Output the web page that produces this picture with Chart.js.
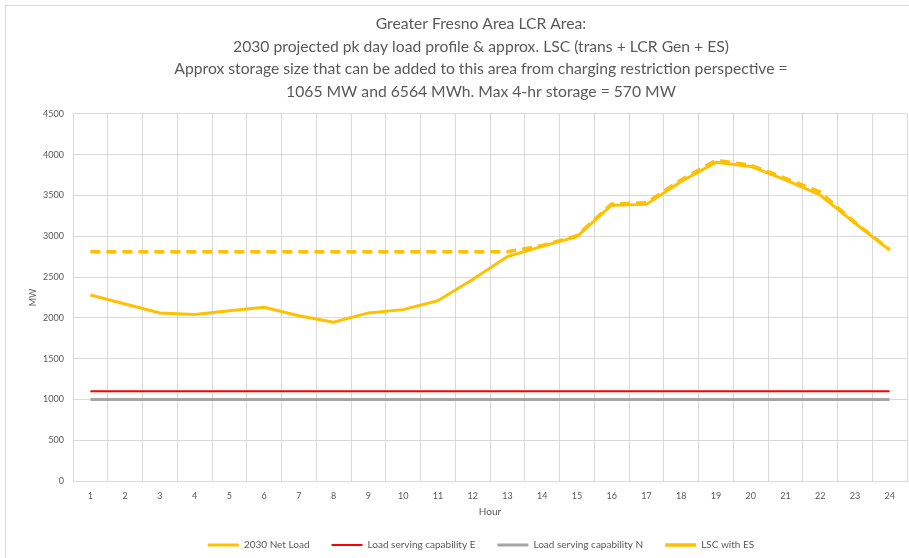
<!DOCTYPE html>
<html>
<head>
<meta charset="utf-8">
<script src="https://cdn.jsdelivr.net/npm/chart.js@4/dist/chart.umd.min.js"></script>
<style>
  html, body { margin: 0; padding: 0; background: #fff; overflow: hidden; }
  #frame { position: absolute; left: 5px; top: 5px; width: 932px; height: 570px; border: 1px solid #d9d9d9; }
  #chartCanvas { display: block; }
</style>
</head>
<body>
<div id="frame"><canvas id="chartCanvas" width="932" height="570"></canvas></div>
<script>
const hours = ['1','2','3','4','5','6','7','8','9','10','11','12','13','14','15','16','17','18','19','20','21','22','23','24'];
const netLoad = [2280, 2170, 2060, 2040, 2085, 2130, 2025, 1945, 2060, 2100, 2210, 2470, 2750, 2875, 2995, 3380, 3390, 3670, 3905, 3855, 3690, 3505, 3160, 2830];
const capabilityE = [1100, 1100, 1100, 1100, 1100, 1100, 1100, 1100, 1100, 1100, 1100, 1100, 1100, 1100, 1100, 1100, 1100, 1100, 1100, 1100, 1100, 1100, 1100, 1100];
const capabilityN = [1000, 1000, 1000, 1000, 1000, 1000, 1000, 1000, 1000, 1000, 1000, 1000, 1000, 1000, 1000, 1000, 1000, 1000, 1000, 1000, 1000, 1000, 1000, 1000];
const lscWithES = [2810, 2810, 2810, 2810, 2810, 2810, 2810, 2810, 2810, 2810, 2810, 2810, 2810, 2885, 3005, 3395, 3410, 3690, 3930, 3870, 3710, 3540, 3170, 2835];
const yTicks = [0, 500, 1000, 1500, 2000, 2500, 3000, 3500, 4000, 4500];

const titleLines = [
    'Greater Fresno Area LCR Area:',
    '2030 projected pk day load profile & approx. LSC (trans + LCR Gen + ES)',
    'Approx storage size that can be added to this area from charging restriction perspective =',
    '1065 MW and 6564 MWh. Max 4-hr storage = 570 MW'
];

const FONT = "Lato, 'Liberation Sans', sans-serif";
const TEXT = '#595959';
const GRID = '#d9d9d9';

const ctx = document.getElementById('chartCanvas');

new Chart(ctx, {
    type: 'line',
    data: {
        labels: hours,
        datasets: [{
            label: '2030 Net Load',
            data: netLoad,
            borderColor: '#FFC000',
            backgroundColor: '#FFC000',
            borderWidth: 3,
            pointRadius: 0,
            tension: 0,
            order: 2
        }, {
            label: 'Load serving capability E',
            data: capabilityE,
            borderColor: '#FF0000',
            backgroundColor: '#FF0000',
            borderWidth: 2,
            pointRadius: 0,
            tension: 0,
            order: 3
        }, {
            label: 'Load serving capability N',
            data: capabilityN,
            borderColor: '#A5A5A5',
            backgroundColor: '#A5A5A5',
            borderWidth: 3,
            pointRadius: 0,
            tension: 0,
            order: 4
        }, {
            label: 'LSC with ES',
            data: lscWithES,
            borderColor: '#FFC000',
            backgroundColor: '#FFC000',
            borderWidth: 3.5,
            borderDash: [10, 6],
            pointRadius: 0,
            tension: 0,
            order: 1
        }]
    },
    options: {
        responsive: false,
        animation: false,
        layout: {
            padding: { left: 20, right: 2, top: 4, bottom: 16 }
        },
        plugins: {
            title: {
                display: true,
                text: titleLines,
                color: TEXT,
                font: { family: FONT, size: 15.7, weight: 'normal', lineHeight: 1.43 },
                padding: { top: 3, bottom: 11 }
            },
            legend: {
                position: 'bottom',
                labels: {
                    color: TEXT,
                    font: { family: FONT, size: 10 },
                    usePointStyle: true,
                    pointStyle: 'line',
                    pointStyleWidth: 31,
                    padding: 22,
                    sort: (a, b) => a.datasetIndex - b.datasetIndex
                }
            },
            tooltip: { enabled: false }
        },
        scales: {
            x: {
                offset: true,
                grid: { offset: true, color: GRID, lineWidth: 1, drawTicks: false },
                border: { color: GRID },
                ticks: { color: TEXT, font: { family: FONT, size: 9 }, padding: 10, maxRotation: 0 },
                title: { display: true, text: 'Hour', color: TEXT, font: { family: FONT, size: 10 }, padding: { top: 2, bottom: 0 } },
                afterFit: (scale) => { scale.height = 37; }
            },
            y: {
                min: 0,
                max: 4500,
                afterBuildTicks: (scale) => { scale.ticks = yTicks.map(v => ({ value: v })); },
                grid: { color: GRID, lineWidth: 1, drawTicks: false },
                border: { display: false },
                ticks: { color: TEXT, font: { family: FONT, size: 9 }, padding: 9, callback: (v) => String(v) },
                title: { display: true, text: 'MW', color: TEXT, font: { family: FONT, size: 9 }, padding: 2 },
                afterFit: (scale) => { scale.width = 47; }
            },
            // eixo vazio 맙 direita s칩 para centralizar t칤tulo e legenda como no original
            yRight: {
                position: 'right',
                display: true,
                grid: { display: false, drawTicks: false },
                border: { display: false },
                ticks: { display: false },
                afterFit: (scale) => { scale.width = 29; }
            }
        }
    }
});
</script>
</body>
</html>
